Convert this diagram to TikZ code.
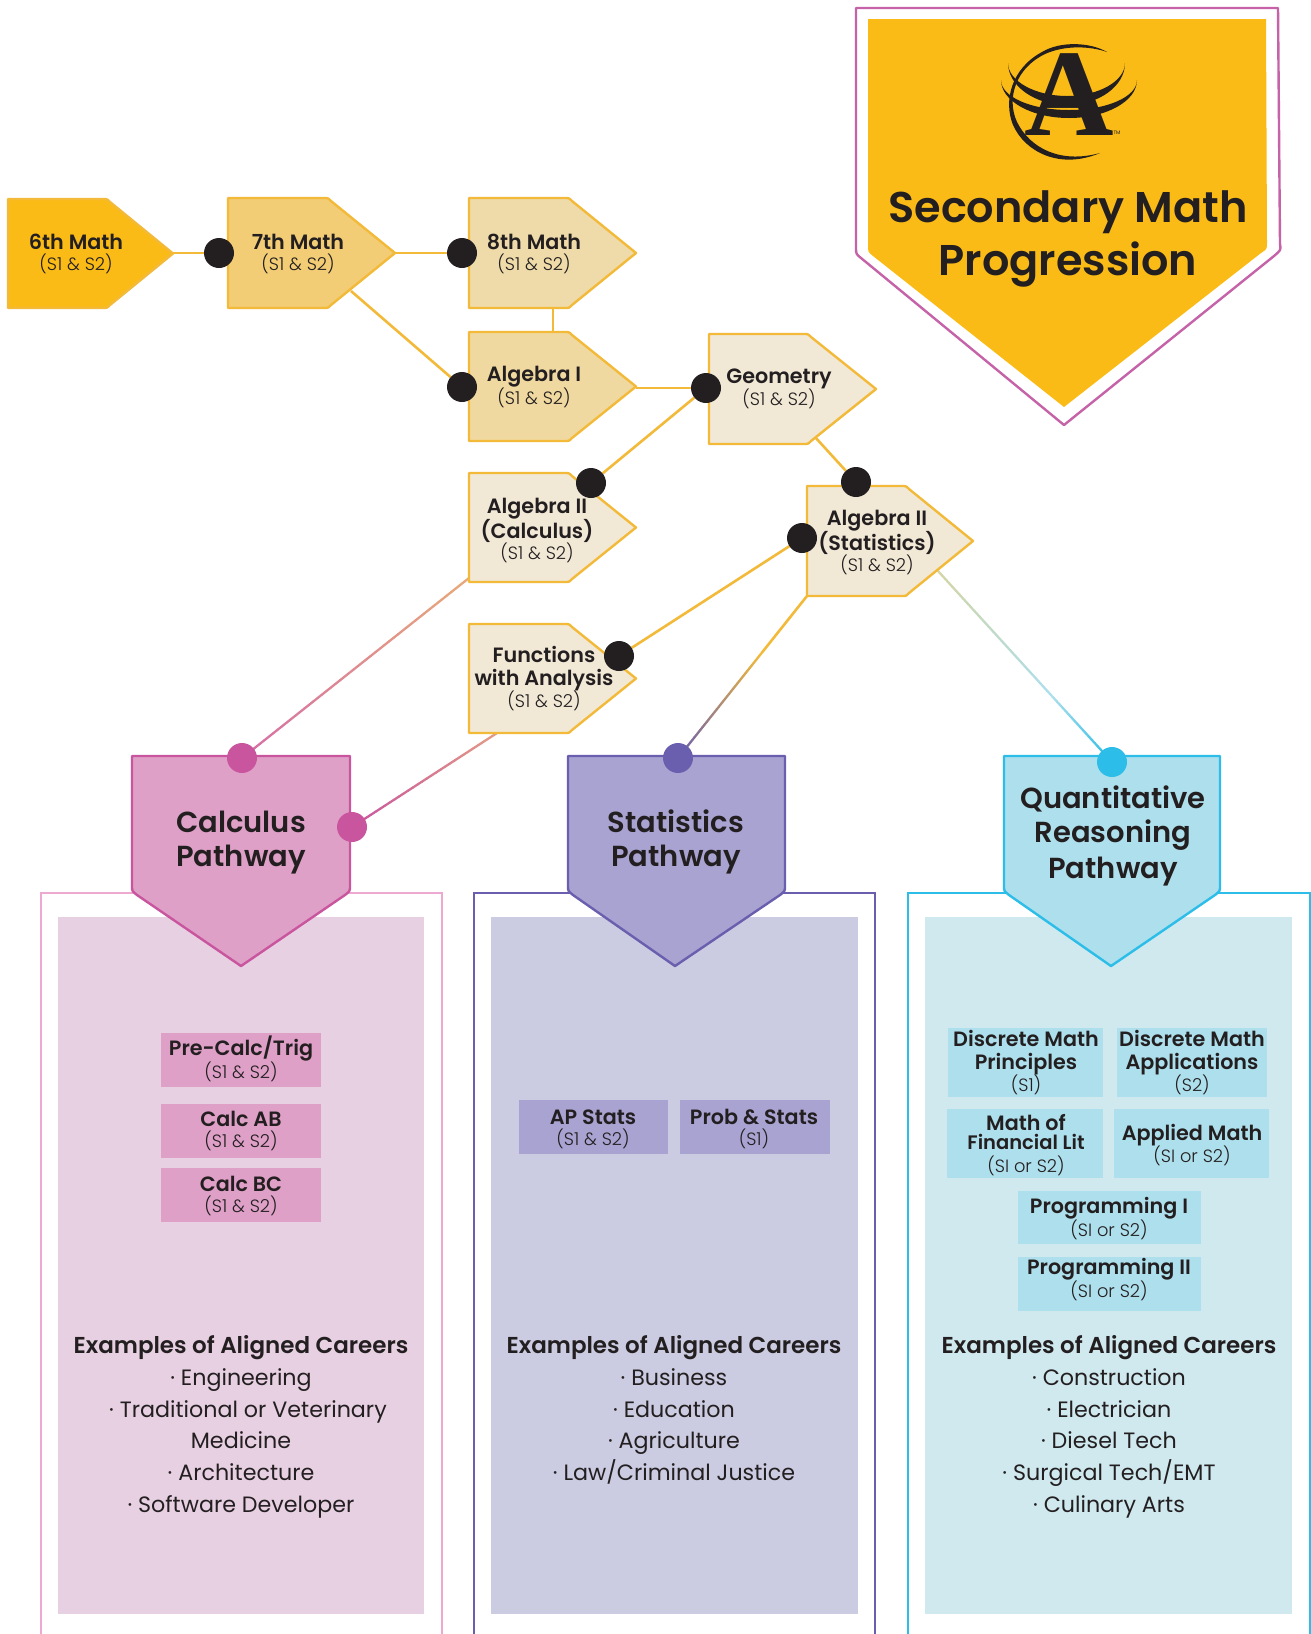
\documentclass[tikz,border=0pt]{standalone}
\usepackage{fontspec}
\usetikzlibrary{calc}
\setmainfont{Poppins}
\newfontfamily\hfont{Poppins SemiBold}
\newfontfamily\lfont{Poppins Light}
\newfontfamily\sfont{Liberation Serif}
\definecolor{ink}{HTML}{231F20}
\definecolor{gold}{HTML}{FBBB17}
\definecolor{edge}{HTML}{F3BA3A}
\definecolor{f7}{HTML}{F2CD75}
\definecolor{f8}{HTML}{EFDBA9}
\definecolor{fA}{HTML}{F0D9A0}
\definecolor{fG}{HTML}{F1E8D6}
\definecolor{pinkD}{HTML}{C9559F}
\definecolor{pinkF}{HTML}{DFA0C7}
\definecolor{pinkO}{HTML}{EEA9D0}
\definecolor{pinkI}{HTML}{E8D0E3}
\definecolor{purD}{HTML}{6A5FAE}
\definecolor{purF}{HTML}{A9A3D2}
\definecolor{purI}{HTML}{CBCBE1}
\definecolor{bluD}{HTML}{2CBDE8}
\definecolor{bluF}{HTML}{AEDFEC}
\definecolor{bluI}{HTML}{CFE9EF}
\definecolor{hdr}{HTML}{C562A8}
\definecolor{gcalcA}{HTML}{E8A97A}
\definecolor{gcalcB}{HTML}{D66FA6}
\definecolor{gfunA}{HTML}{E39A86}
\definecolor{gquanA}{HTML}{D3D6A6}
\pgfdeclarelayer{bg}
\pgfsetlayers{bg,main}
\tikzset{
  pent/.style={draw=edge,line width=2.4pt,line join=round},
  blackdot/.style={circle,fill=ink,inner sep=0pt,minimum size=30pt},
  pdot/.style={circle,inner sep=0pt,minimum size=30pt},
  link/.style={draw=edge,line width=2.6pt},
  txt/.style={align=center,text=ink,inner sep=0pt,
    execute at begin node={\baselineskip=0pt\lineskiplimit=1000pt\lineskip=0pt}},
}
\newcommand{\stl}[2]{\rule[-#2pt]{0pt}{\dimexpr#1pt+#2pt\relax}}
\newcommand{\hd}[1]{{\hfont\fontsize{20.7}{23}\selectfont\stl{18.5}{4.5}#1}}
\newcommand{\sbt}[1]{{\lfont\fontsize{17.8}{22}\selectfont\stl{17}{5}#1}}
\newcommand{\fin}[2]{{\hfont\fontsize{#1}{20}\selectfont\stl{16.5}{3}#2}}
\newcommand{\pth}[1]{{\hfont\fontsize{29}{34}\selectfont\stl{27.5}{6.5}#1}}
\newcommand{\ttl}[1]{{\hfont\fontsize{43}{53}\selectfont\stl{41}{12}#1}}
\newcommand{\car}[1]{{\hfont\fontsize{23}{31.7}\selectfont\stl{23.6}{8.1}#1}}
\newcommand{\itm}[1]{{\fontsize{22.2}{31.7}\selectfont\stl{23.6}{8.1}#1}}
% left top bottom shoulder tip fill
\newcommand{\pentagon}[6]{\filldraw[pent,fill=#6] (#1,#2) -- ({#4-4},#2) .. controls (#4,#2) .. ({#4+3},{#2+3}) -- (#5,{(#2+#3)/2}) -- ({#4+3},{#3-3}) .. controls (#4,#3) .. ({#4-4},#3) -- (#1,#3) -- cycle;}
% left right tipx drawcolour fillcolour
\newcommand{\pathshape}[5]{\filldraw[draw=#4,fill=#5,line width=2.4pt,line join=round] (#1,756) -- (#2,756) -- (#2,886) .. controls (#2,891) .. ({#2-5},895) -- (#3,966) -- ({#1+5},895) .. controls (#1,891) .. (#1,886) -- cycle;}
\newcommand{\gradline}[5]{%
  \begin{pgfonlayer}{bg}
  \foreach \i in {0,...,#5}{%
    \pgfmathtruncatemacro\pp{100*\i/#5}%
    \pgfmathsetmacro\ta{\i/(#5+1)}%
    \pgfmathsetmacro\tb{(\i+1)/(#5+1)}%
    \draw[line width=2.3pt,line cap=round,draw=#4!\pp!#3] ($(#1)!\ta!(#2)$) -- ($(#1)!\tb!(#2)$);
  }
  \end{pgfonlayer}}
\begin{document}
\begin{tikzpicture}[x=1pt,y=-1pt]
\useasboundingbox (0,0) rectangle (1311,1634);
% header
\draw[draw=hdr,line width=2.4pt,line join=round] (856,8) -- (1278,8) -- (1280,244) .. controls (1281,250) .. (1274,256) -- (1064,425) -- (861,258) .. controls (856,254) .. (856,247) -- cycle;
\fill[gold] (868,19) -- (1266,19) -- (1267,243) .. controls (1267,249) .. (1261,253) -- (1064,407) -- (873,256) .. controls (868,252) .. (868,245) -- cycle;
% logo
\fill[ink] (1008,63) .. controls (1008,86) and (1035,105) .. (1067,105) .. controls (1099,105) and (1125,86) .. (1125,63) .. controls (1125,81) and (1099,96) .. (1067,96) .. controls (1035,96) and (1008,81) .. (1008,63) -- cycle;
\fill[ink] (1001,80) .. controls (1001,101) and (1031.4,118) .. (1069,118) .. controls (1106.6,118) and (1137,101) .. (1137,80) .. controls (1137,97) and (1106.6,110) .. (1069,110) .. controls (1031.4,110) and (1001,97) .. (1001,80) -- cycle;
\fill[ink] (1107,52) .. controls (1090,42) and (1060,41) .. (1042,52) .. controls (1012,68) and (1003,100) .. (1013,125) .. controls (1025,152) and (1060,170) .. (1100,153) .. controls (1060,164) and (1030,148) .. (1017,122) .. controls (1006,98) and (1016,68) .. (1045,54) .. controls (1065,45) and (1090,46) .. (1107,52) -- cycle;
\node[inner sep=0pt,text=ink,font=\sfont\bfseries\fontsize{124}{124}\selectfont] (logoA) at (1069,95) {A};
\node[inner sep=0pt,text=ink,font=\fontsize{5}{5}\selectfont] (tm) at (1117,133) {TM};
\node[txt] (title) at (1068,234) {\ttl{Secondary Math}\\\ttl{Progression}};
% progression shapes
\pentagon{8}{199}{308}{107}{173}{gold}
\pentagon{228}{198}{308}{328}{395}{f7}
\pentagon{469}{198}{308}{569}{636}{f8}
\pentagon{469}{332}{441}{569}{636}{fA}
\pentagon{709}{334}{444}{808}{876}{fG}
\pentagon{469}{473}{582}{569}{636}{fG}
\pentagon{807}{486}{596}{906}{973}{fG}
\pentagon{469}{624}{733}{569}{636}{fG}
\node[txt] (m6) at (76,253) {\hd{6th Math}\\\sbt{(S1 \& S2)}};
\node[txt] (m7) at (298,253) {\hd{7th Math}\\\sbt{(S1 \& S2)}};
\node[txt] (m8) at (534,253) {\hd{8th Math}\\\sbt{(S1 \& S2)}};
\node[txt] (alg1) at (534,386) {\hd{Algebra I}\\\sbt{(S1 \& S2)}};
\node[txt] (geom) at (779,388) {\hd{Geometry}\\\sbt{(S1 \& S2)}};
\node[txt] (alg2c) at (537,530) {\hd{Algebra II}\\\hd{(Calculus)}\\\sbt{(S1 \& S2)}};
\node[txt] (alg2s) at (877,542) {\hd{Algebra II}\\\hd{(Statistics)}\\\sbt{(S1 \& S2)}};
\node[txt] (func) at (544,678) {\hd{Functions}\\\hd{with Analysis}\\\sbt{(S1 \& S2)}};
% lower panels
\draw[pinkO,line width=2.4pt] (41,1634) -- (41,893) -- (442,893) -- (442,1634);
\draw[purD,line width=2.4pt] (474,1634) -- (474,893) -- (875,893) -- (875,1634);
\draw[bluD,line width=2.4pt] (908,1634) -- (908,893) -- (1310,893) -- (1310,1634);
\fill[pinkI] (58,917) rectangle (424,1614);
\fill[purI] (491,917) rectangle (858,1614);
\fill[bluI] (925,917) rectangle (1292,1614);
% pathway shapes
\pathshape{132}{350}{241}{pinkD}{pinkF}
\pathshape{568}{785}{675}{purD}{purF}
\pathshape{1004}{1220}{1111}{bluD}{bluF}
\node[txt] (pc) at (241,839.5) {\pth{Calculus}\\\pth{Pathway}};
\node[txt] (ps) at (676,839.5) {\pth{Statistics}\\\pth{Pathway}};
\node[txt] (pq) at (1113,833.5) {\pth{Quantitative}\\\pth{Reasoning}\\\pth{Pathway}};
% calculus courses
\fill[pinkF] (161,1033) rectangle (321,1087);
\fill[pinkF] (161,1104) rectangle (321,1158);
\fill[pinkF] (161,1168) rectangle (321,1222);
\node[txt] (c1) at (241,1059.5) {\hd{Pre-Calc/Trig}\\\sbt{(S1 \& S2)}};
\node[txt] (c2) at (241,1130) {\hd{Calc AB}\\\sbt{(S1 \& S2)}};
\node[txt] (c3) at (241,1195) {\hd{Calc BC}\\\sbt{(S1 \& S2)}};
% statistics courses
\fill[purF] (519,1100) rectangle (668,1154);
\fill[purF] (680,1100) rectangle (830,1154);
\node[txt] (s1) at (593,1128) {\hd{AP Stats}\\\sbt{(S1 \& S2)}};
\node[txt] (s2) at (754,1128) {\hd{Prob \& Stats}\\\sbt{(S1)}};
% QR courses
\fill[bluF] (948,1028) rectangle (1103,1097);
\fill[bluF] (1117,1028) rectangle (1267,1097);
\fill[bluF] (947,1109) rectangle (1103,1178);
\fill[bluF] (1114,1109) rectangle (1269,1178);
\fill[bluF] (1018,1191) rectangle (1201,1244);
\fill[bluF] (1018,1257) rectangle (1201,1311);
\node[txt] (q1) at (1026,1062.5) {\hd{Discrete Math}\\\hd{Principles}\\\sbt{(S1)}};
\node[txt] (q2) at (1192,1062.5) {\hd{Discrete Math}\\\hd{Applications}\\\sbt{(S2)}};
\node[txt] (q3) at (1026,1145.5) {\fin{20.7}{Math of}\\\fin{19.5}{Financial Lit}\\\rule{0pt}{3pt}\\\sbt{(SI or S2)}};
\node[txt] (q4) at (1192,1145) {\hd{Applied Math}\\\sbt{(SI or S2)}};
\node[txt] (q5) at (1109,1218) {\hd{Programming I}\\\sbt{(SI or S2)}};
\node[txt] (q6) at (1109,1279.5) {\hd{Programming II}\\\sbt{(SI or S2)}};
% careers
\node[txt,anchor=north] (cc) at (241,1330) {\car{Examples of Aligned Careers}\\\itm{· Engineering}\\\itm{\hspace*{14pt}· Traditional or Veterinary}\\\itm{Medicine}\\\itm{· Architecture}\\\itm{· Software Developer}};
\node[txt,anchor=north] (cs) at (674,1330) {\car{Examples of Aligned Careers}\\\itm{· Business}\\\itm{· Education}\\\itm{· Agriculture}\\\itm{· Law/Criminal Justice}};
\node[txt,anchor=north] (cq) at (1109,1330) {\car{Examples of Aligned Careers}\\\itm{· Construction}\\\itm{· Electrician}\\\itm{· Diesel Tech}\\\itm{· Surgical Tech/EMT}\\\itm{· Culinary Arts}};
% dots
\node[blackdot] (d7) at (219,253) {};
\node[blackdot] (d8) at (462,253) {};
\node[blackdot] (dA) at (462,387) {};
\node[blackdot] (dG) at (706,388) {};
\node[blackdot] (dC) at (591,483) {};
\node[blackdot] (dS1) at (856,482) {};
\node[blackdot] (dS2) at (802,538) {};
\node[blackdot] (dF) at (619,656) {};
\node[pdot,fill=pinkD] (pd1) at (242,758) {};
\node[pdot,fill=pinkD] (pd2) at (352,827) {};
\node[pdot,fill=purD] (pd3) at (678,758) {};
\node[pdot,fill=bluD] (pd4) at (1112,762) {};
% free ends
\coordinate (t6) at (173,253);
\coordinate (t7) at (395,253);
\coordinate (e7) at (351,291);
\coordinate (b8) at (553,308);
\coordinate (tA) at (553,332);
\coordinate (tI) at (636,388);
\coordinate (bG) at (815,437);
\coordinate (lC) at (469,578);
\coordinate (bF) at (497,733);
\coordinate (lS) at (807,596);
\coordinate (rS) at (938,571);
\coordinate (mS) at ($(lS)!0.35!(pd3)$);
\coordinate (mQ) at ($(rS)!0.65!(pd4)$);
\begin{pgfonlayer}{bg}
\draw[link] (t6) -- (d7);
\draw[link] (t7) -- (d8);
\draw[link] (e7) -- (dA);
\draw[link] (b8) -- (tA);
\draw[link] (tI) -- (dG);
\draw[link] (dG) -- (dC);
\draw[link] (bG) -- (dS1);
\draw[link] (dS2) -- (dF);
\draw[link] (lS) -- (mS);
\end{pgfonlayer}
\gradline{mS}{pd3}{edge}{purD}{40}
\gradline{lC}{pd1}{gcalcA}{gcalcB}{50}
\gradline{bF}{pd2}{gfunA}{pinkD}{30}
\gradline{rS}{mQ}{gquanA}{bluF}{30}
\gradline{mQ}{pd4}{bluF}{bluD}{20}
\end{tikzpicture}
\end{document}
